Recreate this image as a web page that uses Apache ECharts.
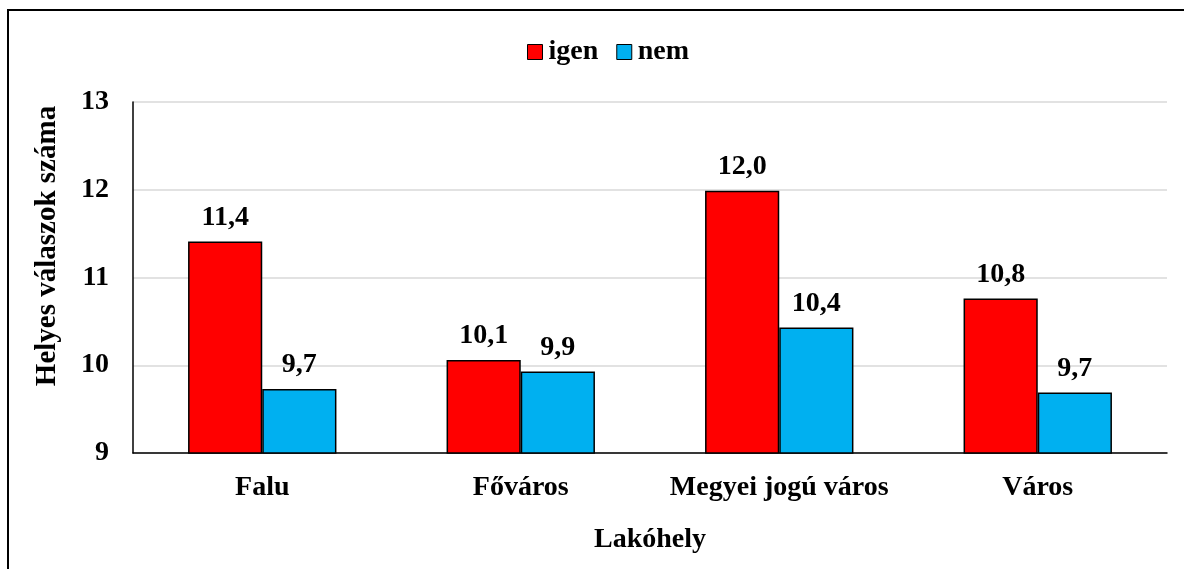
<!DOCTYPE html>
<html>
<head>
<meta charset="utf-8">
<script src="https://cdn.jsdelivr.net/npm/echarts@6/dist/echarts.min.js"></script>
<style>
  html, body { margin: 0; padding: 0; background: #fff; }
  #chart { width: 1184px; height: 569px; }
</style>
</head>
<body>
<div id="chart"></div>
<script>
const categories = ['Falu', 'Főváros', 'Megyei jogú város', 'Város'];
const igen = [11.41, 10.06, 11.99, 10.76];
const nem = [9.73, 9.93, 10.43, 9.69];
const yTicks = [9, 10, 11, 12, 13];
const yTitle = 'Helyes válaszok száma';

const font = '"Liberation Serif", "Times New Roman", serif';
const fmt = (p) => p.value.toFixed(1).replace('.', ',');

const chart = echarts.init(document.getElementById('chart'));

const barLabel = {
  show: true,
  position: 'top',
  distance: 10,
  fontFamily: font,
  fontWeight: 'bold',
  fontSize: 28,
  color: '#000',
  formatter: fmt
};

const option = {
  animation: false,
  backgroundColor: '#fff',
  textStyle: { fontFamily: font },
  graphic: [
    {
      type: 'rect',
      shape: { x: 8, y: 10, width: 2000, height: 2000 },
      style: { fill: 'none', stroke: '#000', lineWidth: 2 },
      silent: true
    },
    {
      // y axis title, Excel centres it a bit above the plot middle
      type: 'text',
      x: 48,
      y: 246,
      rotation: Math.PI / 2,
      style: {
        text: yTitle,
        font: 'bold 29px ' + font,
        fill: '#000',
        align: 'center',
        verticalAlign: 'middle'
      },
      silent: true
    }
  ],
  legend: {
    top: 33,
    left: 522,
    itemWidth: 15,
    itemHeight: 15,
    itemGap: 18,
    textStyle: { fontFamily: font, fontWeight: 'bold', fontSize: 28, color: '#000', padding: [0, 0, 0, 1] },
    data: [
      { name: 'igen', icon: 'rect', itemStyle: { borderColor: '#000', borderWidth: 1 } },
      { name: 'nem', icon: 'rect', itemStyle: { borderColor: '#000', borderWidth: 1 } }
    ]
  },
  grid: { left: 133, right: 17, top: 102, bottom: 116, containLabel: false },
  xAxis: {
    type: 'category',
    data: categories,
    name: 'Lakóhely',
    nameLocation: 'middle',
    nameGap: 73,
    nameTextStyle: { fontFamily: font, fontWeight: 'bold', fontSize: 28, color: '#000' },
    axisLine: { lineStyle: { color: '#000', width: 1.5 } },
    axisTick: { show: false },
    axisLabel: { interval: 0, fontFamily: font, fontWeight: 'bold', fontSize: 28, color: '#000', margin: 21 }
  },
  yAxis: {
    type: 'value',
    min: yTicks[0],
    max: yTicks[yTicks.length - 1],
    interval: 1,
    axisLine: { show: true, lineStyle: { color: '#000', width: 1.5 } },
    axisTick: { show: false },
    axisLabel: { fontFamily: font, fontWeight: 'bold', fontSize: 28, color: '#000', margin: 24 },
    splitLine: { lineStyle: { color: '#d9d9d9', width: 1.5 } }
  },
  series: [
    {
      name: 'igen',
      type: 'bar',
      data: igen,
      barGap: '0%',
      barCategoryGap: '42.6%',
      itemStyle: { color: '#ff0000', borderColor: '#000', borderWidth: 1.5 },
      label: barLabel
    },
    {
      name: 'nem',
      type: 'bar',
      data: nem,
      itemStyle: { color: '#00b0f0', borderColor: '#000', borderWidth: 1.5 },
      label: barLabel
    }
  ]
};

chart.setOption(option);
</script>
</body>
</html>
